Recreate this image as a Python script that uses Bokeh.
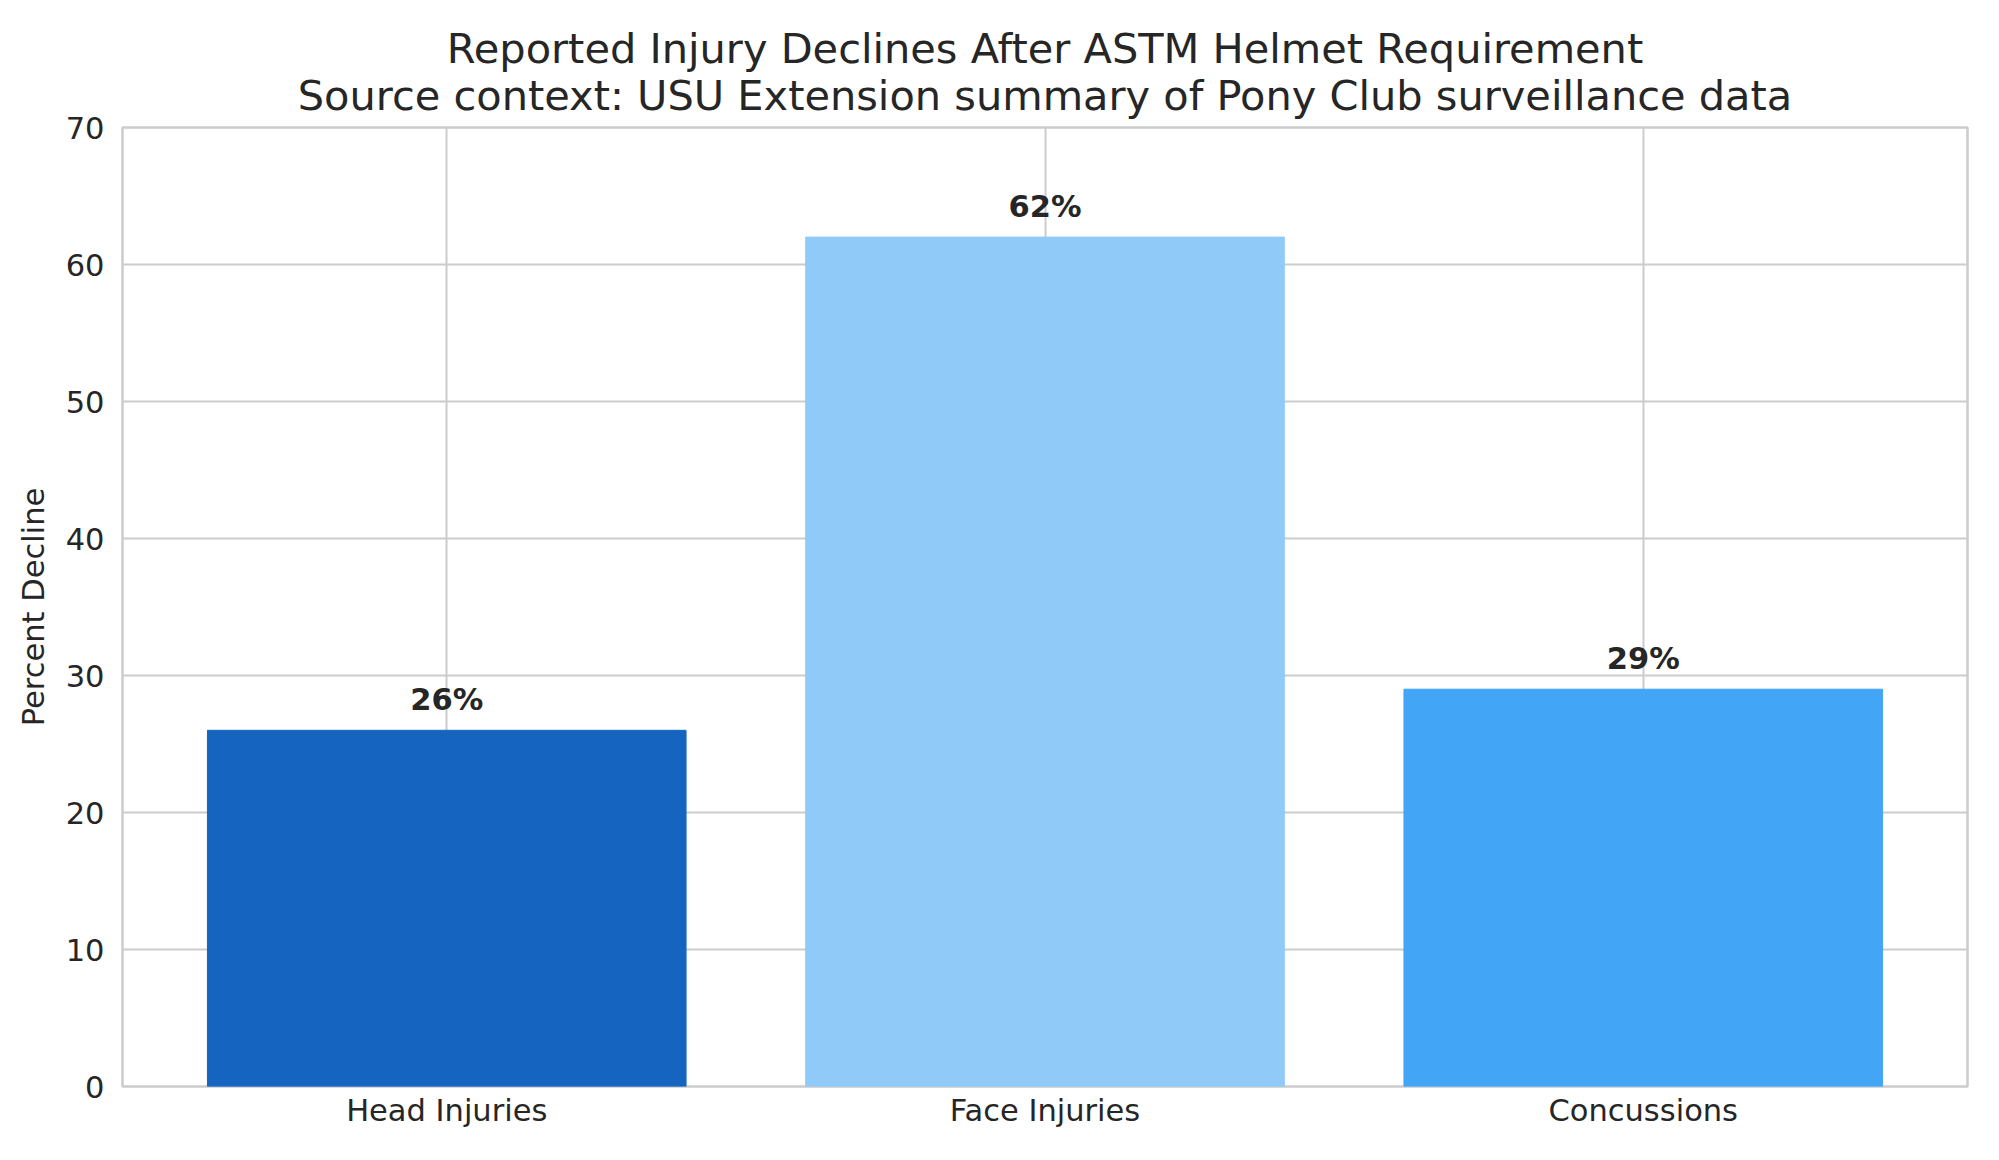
from bokeh.plotting import figure
from bokeh.models import FactorRange, Range1d, SingleIntervalTicker, Title, ColumnDataSource
from bokeh.core.properties import value
from bokeh.embed import file_html
from bokeh.resources import INLINE

categories = ["Head Injuries", "Face Injuries", "Concussions"]
declines = [26, 62, 29]
bar_colors = ["#1565C0", "#90CAF9", "#42A5F5"]
bar_labels = [f"{v}%" for v in declines]
title_line1 = "Reported Injury Declines After ASTM Helmet Requirement"
title_line2 = "Source context: USU Extension summary of Pony Club surveillance data"
y_label = "Percent Decline"

FONT = "DejaVu Sans"
TXT = "#262626"
GRID = "#cccccc"

src = ColumnDataSource(dict(cat=categories, val=declines, color=bar_colors, lab=bar_labels))

p = figure(
    width=1991, height=1152,
    x_range=FactorRange(factors=categories, range_padding=0.028),
    y_range=Range1d(0, 70),
    output_backend="svg", toolbar_location=None,
    min_border_left=122, min_border_right=24, min_border_top=127, min_border_bottom=66,
)
p.title.visible = False

t2 = Title(text=title_line2, align="center", text_font=FONT, text_font_size="41.5px",
           text_color=TXT, text_font_style="normal", standoff=15)
t1 = Title(text=title_line1, align="center", text_font=FONT, text_font_size="41.5px",
           text_color=TXT, text_font_style="normal", standoff=-23)
p.add_layout(t2, "above")
p.add_layout(t1, "above")

p.vbar(x="cat", top="val", width=0.8, fill_color="color", line_color="color", source=src)

p.text(x="cat", y="val", text="lab", source=src, text_align="center",
       text_baseline="alphabetic", y_offset=-31, text_font=value(FONT),
       text_font_size="30.5px", text_font_style="bold", text_color=TXT)

p.yaxis.ticker = SingleIntervalTicker(interval=10)
for ax in (p.xaxis, p.yaxis):
    ax.axis_line_color = None
    ax.major_tick_line_color = None
    ax.minor_tick_line_color = None
    ax.major_label_text_font = FONT
    ax.major_label_text_font_size = "30.5px"
    ax.major_label_text_color = TXT
p.xaxis.major_label_standoff = 0
p.yaxis.major_label_standoff = 12
p.yaxis.axis_label = y_label
p.yaxis.axis_label_text_font = FONT
p.yaxis.axis_label_text_font_size = "30.5px"
p.yaxis.axis_label_text_font_style = "normal"
p.yaxis.axis_label_text_color = TXT
p.yaxis.axis_label_standoff = 12

p.xgrid.grid_line_color = GRID
p.ygrid.grid_line_color = GRID
p.xgrid.grid_line_width = 2
p.ygrid.grid_line_width = 2
p.outline_line_color = GRID
p.outline_line_width = 2.5
p.background_fill_color = "white"
p.border_fill_color = "white"

open("out.html", "w").write(file_html(p, INLINE))
